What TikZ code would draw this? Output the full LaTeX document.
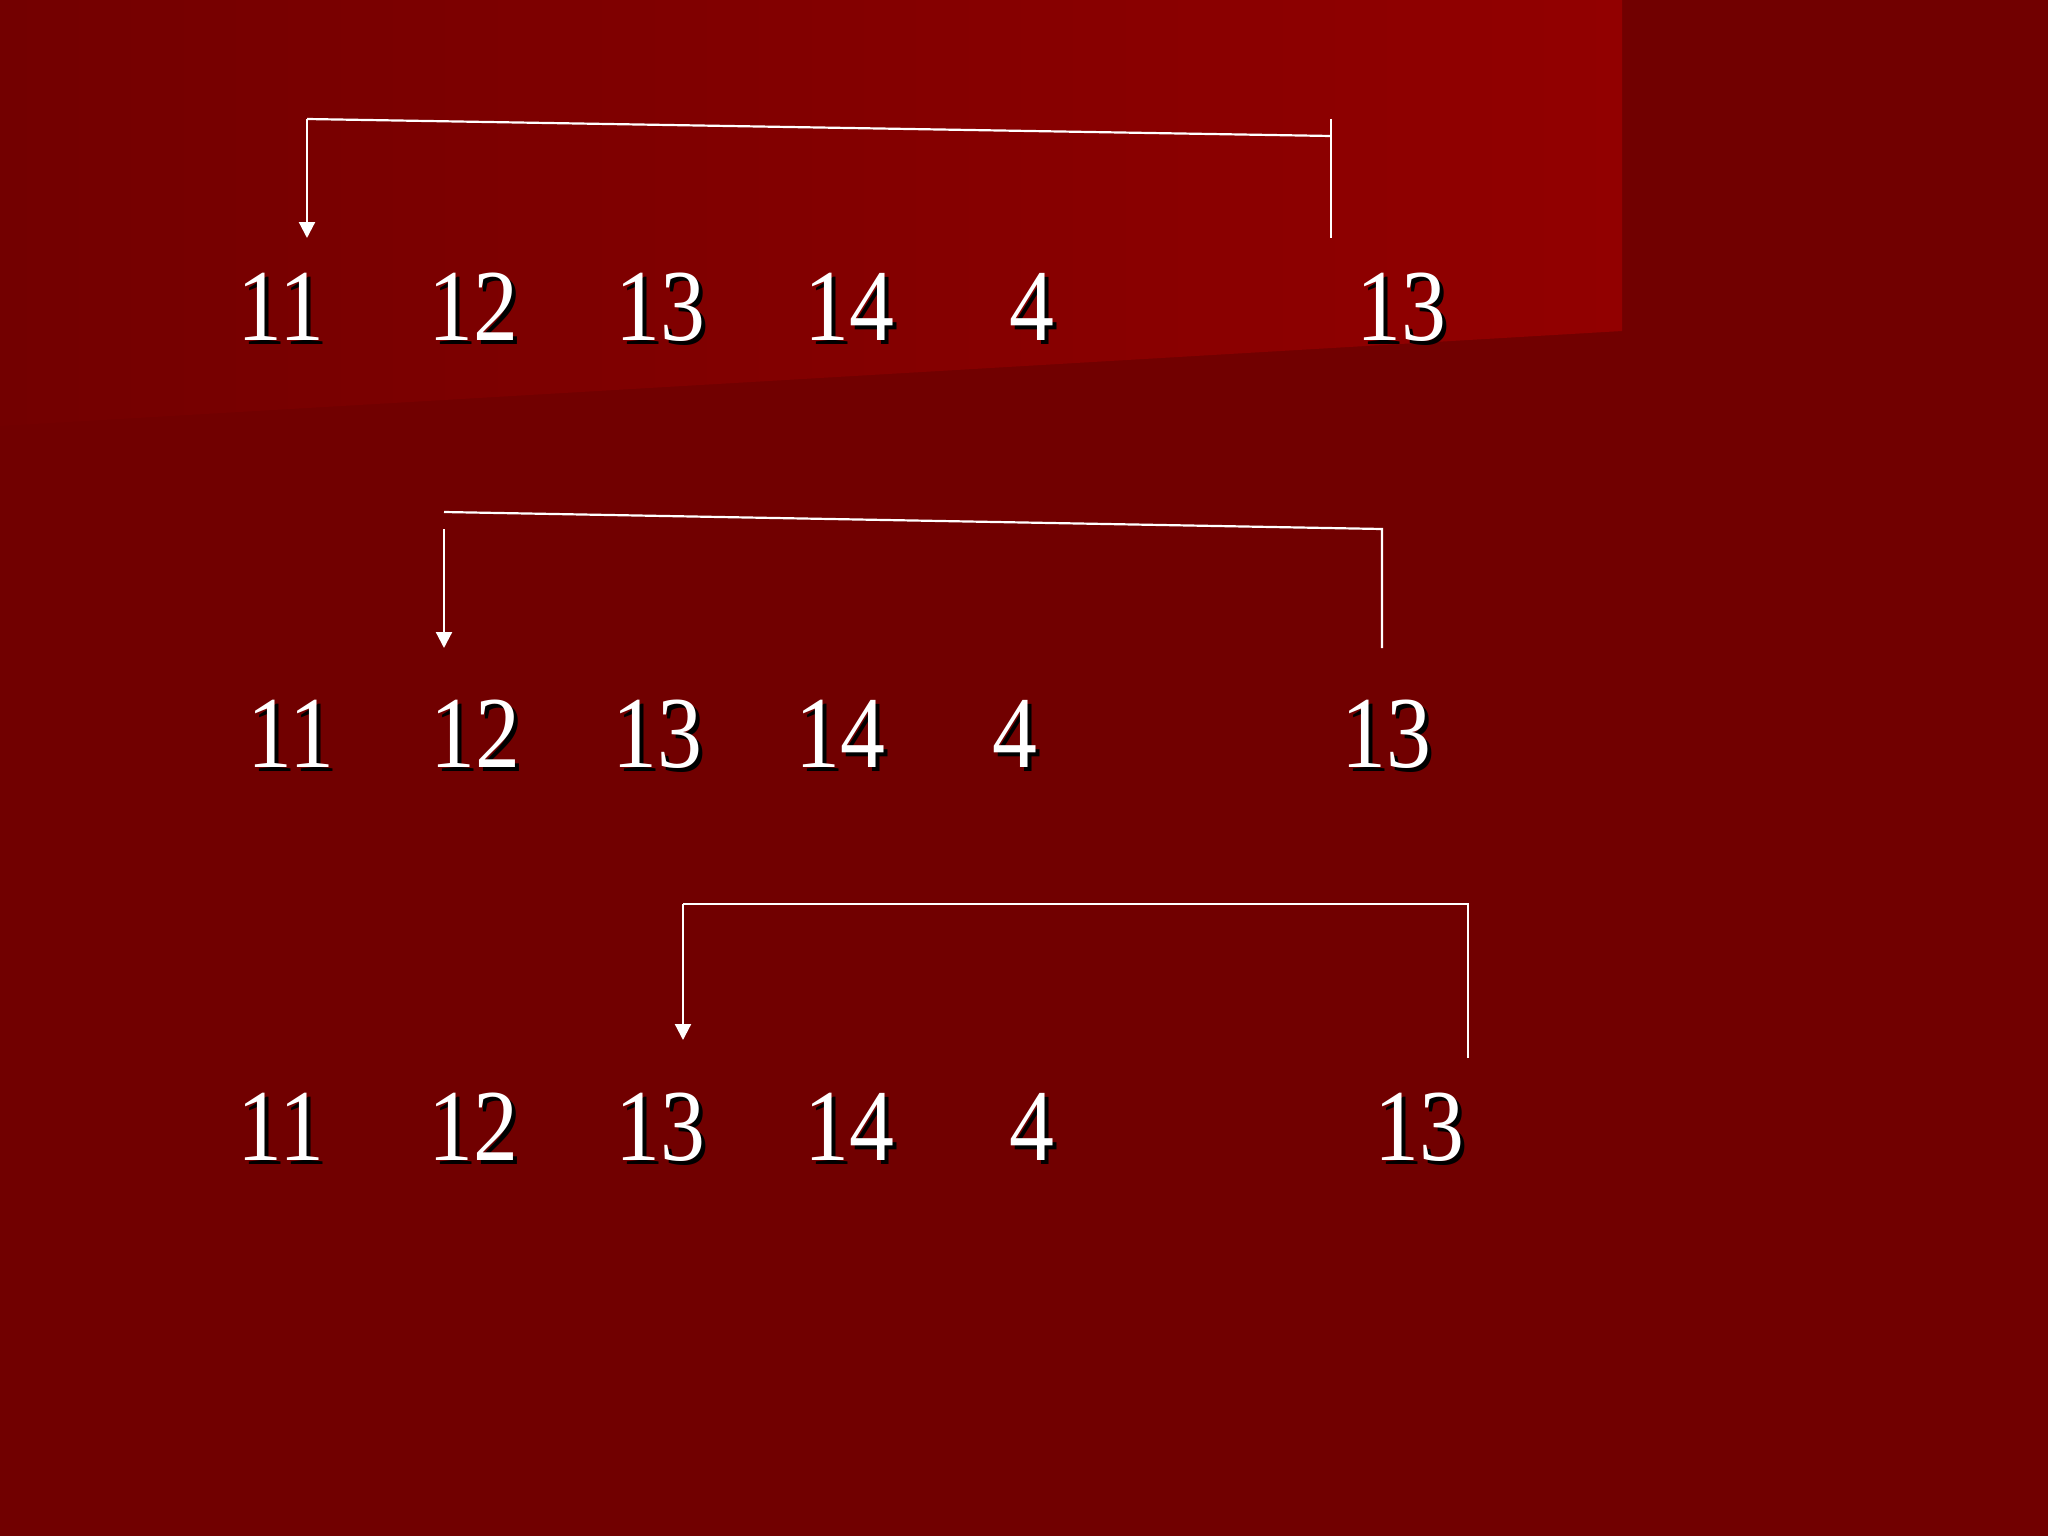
\documentclass[tikz,border=0pt]{standalone}
\usepackage{fontspec}
\setmainfont{Liberation Serif}
\usetikzlibrary{arrows.meta}
\definecolor{bgred}{RGB}{113,0,0}
\definecolor{panelL}{RGB}{115,0,0}
\definecolor{panelR}{RGB}{146,0,0}
\tikzset{
  numtxt/.style={anchor=base, inner sep=0pt, text=white, xscale=0.88, font=\fontsize{102}{110}\selectfont},
  numshadow/.style={numtxt, text=black},
  link/.style={draw=white, line width=2.2pt},
  linkarrow/.style={link, -{Triangle[width=16pt,length=16pt]}}
}
\newcommand\numlbl[4]{%
  \node[numshadow] at (#2+4,#3+4) {#4};
  \node[numtxt] (#1) at (#2,#3) {#4};}
\begin{document}
\begin{tikzpicture}[x=1pt,y=-1pt]
  \useasboundingbox (0,0) rectangle (2048,1536);
  \fill[bgred] (0,0) rectangle (2048,1536);
  \shade[left color=panelL, right color=panelR] (0,0) -- (1622,0) -- (1622,331) -- (0,426) -- cycle;

  % row 1
  \numlbl{a1}{281}{340}{11}
  \numlbl{a2}{473}{340}{12}
  \numlbl{a3}{660}{340}{13}
  \numlbl{a4}{849}{340}{14}
  \numlbl{a5}{1032}{340}{4}
  \numlbl{a6}{1401}{340}{13}
  % row 2
  \numlbl{b1}{291}{767}{11}
  \numlbl{b2}{475}{767}{12}
  \numlbl{b3}{657}{767}{13}
  \numlbl{b4}{840}{767}{14}
  \numlbl{b5}{1015}{767}{4}
  \numlbl{b6}{1386}{767}{13}
  % row 3
  \numlbl{c1}{281}{1160}{11}
  \numlbl{c2}{473}{1160}{12}
  \numlbl{c3}{660}{1160}{13}
  \numlbl{c4}{849}{1160}{14}
  \numlbl{c5}{1032}{1160}{4}
  \numlbl{c6}{1419}{1160}{13}

  % connector coordinates
  \coordinate (r1tl) at (307,119);
  \coordinate (r1tr) at (1331,136);
  \coordinate (r1top) at (1331,119);
  \coordinate (r1bot) at (1331,238);
  \coordinate (r1tip) at (307,238);

  \coordinate (r2tl) at (444,512);
  \coordinate (r2tr) at (1382,529);
  \coordinate (r2bot) at (1382,648);
  \coordinate (r2vs) at (444,529);
  \coordinate (r2tip) at (444,648);

  \coordinate (r3tl) at (683,904);
  \coordinate (r3tr) at (1468,904);
  \coordinate (r3bot) at (1468,1058);
  \coordinate (r3tip) at (683,1040);

  % row 1 connectors
  \draw[link] (r1tl) -- (r1tr);
  \draw[link] (r1top) -- (r1bot);
  \draw[linkarrow] (r1tl) -- (r1tip);
  % row 2 connectors
  \draw[link] (r2tl) -- (r2tr) -- (r2bot);
  \draw[linkarrow] (r2vs) -- (r2tip);
  % row 3 connectors
  \draw[link] (r3bot) -- (r3tr) -- (r3tl);
  \draw[linkarrow] (r3tl) -- (r3tip);
\end{tikzpicture}
\end{document}
